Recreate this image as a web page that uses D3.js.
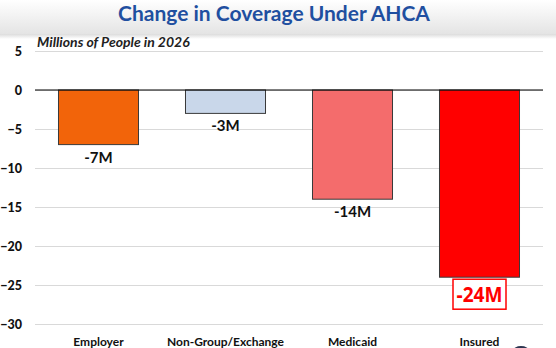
<!DOCTYPE html>
<html>
<head>
<meta charset="utf-8">
<script src="https://cdn.jsdelivr.net/npm/d3@7"></script>
<style>
  body { margin: 0; background: #fff; }
  svg { display: block; font-family: Lato, "Open Sans", sans-serif; }
</style>
</head>
<body>
<svg id="chart"></svg>
<script>
const width = 556;
const height = 348;

const categories = ['Employer', 'Non-Group/Exchange', 'Medicaid', 'Insured'];
const changes = [-7, -3, -14, -24];
const valueLabels = ['-7M', '-3M', '-14M', '-24M'];
const barColors = ['#f2640a', '#c9d7ea', '#f46c6c', '#ff0000'];
const yTicks = [5, 0, -5, -10, -15, -20, -25, -30];

const plot = {left: 35, right: 543, top: 51, bottom: 324};

const svg = d3.select('#chart')
  .attr('width', width)
  .attr('height', height);

// header band
const defs = svg.append('defs');
const grad = defs.append('linearGradient')
  .attr('id', 'head').attr('x1', 0).attr('y1', 0).attr('x2', 0).attr('y2', 1);
grad.append('stop').attr('offset', '0%').attr('stop-color', '#ffffff');
grad.append('stop').attr('offset', '100%').attr('stop-color', '#e4e4e4');
const shade = defs.append('linearGradient')
  .attr('id', 'shade').attr('x1', 0).attr('y1', 0).attr('x2', 0).attr('y2', 1);
shade.append('stop').attr('offset', '0%').attr('stop-color', '#dcdcdc');
shade.append('stop').attr('offset', '100%').attr('stop-color', '#ffffff');

svg.append('rect').attr('x', 0).attr('y', 0).attr('width', width).attr('height', 34)
  .attr('fill', 'url(#head)');
svg.append('rect').attr('x', 0).attr('y', 34).attr('width', width).attr('height', 5)
  .attr('fill', 'url(#shade)');

svg.append('text')
  .attr('x', 274)
  .attr('y', 21)
  .attr('text-anchor', 'middle')
  .attr('font-size', 21)
  .attr('font-weight', 'bold')
  .attr('fill', '#1f4fa0')
  .text('Change in Coverage Under AHCA');

const yScale = d3.scaleLinear()
  .domain([-30, 5])
  .range([plot.bottom, plot.top]);

const xScale = d3.scaleBand()
  .domain(categories)
  .range([plot.left, plot.right])
  .paddingInner(0.37)
  .paddingOuter(0.185);

// gridlines
const grid = svg.append('g')
  .attr('transform', `translate(${plot.left}, 0)`)
  .call(d3.axisLeft(yScale).tickValues(yTicks).tickSize(-(plot.right - plot.left)).tickFormat(''));
grid.select('.domain').remove();
grid.selectAll('line').attr('stroke', '#d9d9d9').attr('stroke-width', 1);

// y axis labels
const yAxis = svg.append('g')
  .attr('transform', `translate(${plot.left}, 0)`)
  .call(d3.axisLeft(yScale).tickValues(yTicks).tickSize(0).tickPadding(13).tickFormat(d3.format('d')));
yAxis.select('.domain').remove();
yAxis.selectAll('text')
  .attr('font-family', 'Lato, sans-serif')
  .attr('font-size', 12.5)
  .attr('font-weight', 900)
  .attr('fill', '#111');

svg.append('text')
  .attr('x', 37)
  .attr('y', 47)
  .attr('font-size', 14)
  .attr('font-weight', 'bold')
  .attr('font-style', 'italic')
  .attr('fill', '#222')
  .text('Millions of People in 2026');

// bars
const data = categories.map((c, i) => ({name: c, value: changes[i], label: valueLabels[i], color: barColors[i]}));

svg.selectAll('rect.bar')
  .data(data)
  .enter()
  .append('rect')
  .attr('class', 'bar')
  .attr('x', d => xScale(d.name))
  .attr('y', d => yScale(0))
  .attr('width', xScale.bandwidth())
  .attr('height', d => yScale(d.value) - yScale(0))
  .attr('fill', d => d.color)
  .attr('stroke', '#3a3a3a')
  .attr('stroke-width', 1);

// zero line
svg.append('line')
  .attr('x1', plot.left).attr('x2', plot.right)
  .attr('y1', yScale(0)).attr('y2', yScale(0))
  .attr('stroke', '#000').attr('stroke-width', 1.2);

// value labels
const small = data.slice(0, 3);
svg.selectAll('text.val')
  .data(small)
  .enter()
  .append('text')
  .attr('class', 'val')
  .attr('x', d => xScale(d.name) + xScale.bandwidth() / 2)
  .attr('y', d => yScale(d.value) + 18)
  .attr('text-anchor', 'middle')
  .attr('font-size', 15)
  .attr('font-weight', 'bold')
  .attr('fill', '#111')
  .text(d => d.label);

const big = data[3];
const bigX = xScale(big.name) + xScale.bandwidth() / 2;
const bigY = yScale(big.value) + 17;
svg.append('rect')
  .attr('x', bigX - 26.5)
  .attr('y', bigY - 15)
  .attr('width', 53)
  .attr('height', 30)
  .attr('fill', '#fff')
  .attr('stroke', '#ff0000')
  .attr('stroke-width', 1.5);
svg.append('text')
  .attr('x', bigX)
  .attr('y', bigY + 8)
  .attr('text-anchor', 'middle')
  .attr('font-family', '"Open Sans", sans-serif')
  .attr('font-size', 21)
  .attr('font-weight', 700)
  .attr('textLength', 46)
  .attr('lengthAdjust', 'spacingAndGlyphs')
  .attr('fill', '#ff0000')
  .text(big.label);

// category labels
svg.selectAll('text.cat')
  .data(categories)
  .enter()
  .append('text')
  .attr('class', 'cat')
  .attr('x', d => xScale(d) + xScale.bandwidth() / 2)
  .attr('y', 346)
  .attr('text-anchor', 'middle')
  .attr('font-size', 12)
  .attr('font-weight', 'bold')
  .attr('fill', '#111')
  .text(d => d);

// small dark mark at the bottom right corner
svg.append('ellipse')
  .attr('cx', 521).attr('cy', 351).attr('rx', 8).attr('ry', 5)
  .attr('fill', '#2b3550');
</script>
</body>
</html>
